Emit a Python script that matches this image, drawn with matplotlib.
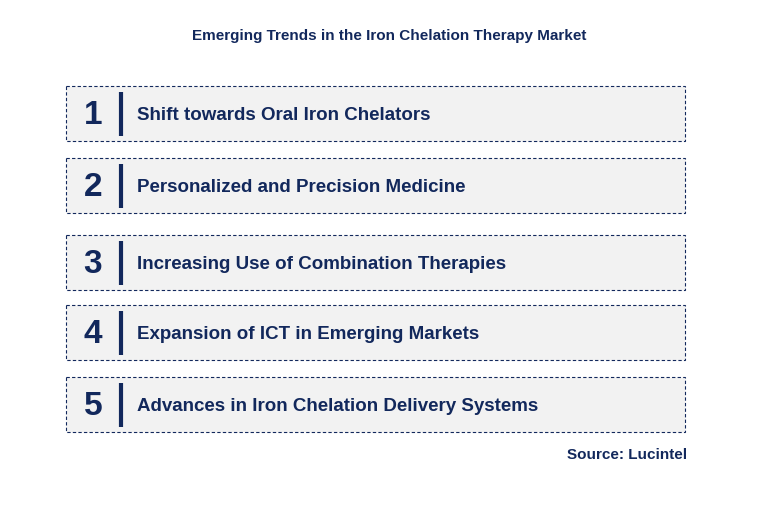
import matplotlib.pyplot as plt
from matplotlib.patches import Rectangle

# === Data ===
title = "Emerging Trends in the Iron Chelation Therapy Market"
numbers = ["1", "2", "3", "4", "5"]
trends = [
    "Shift towards Oral Iron Chelators",
    "Personalized and Precision Medicine",
    "Increasing Use of Combination Therapies",
    "Expansion of ICT in Emerging Markets",
    "Advances in Iron Chelation Delivery Systems",
]
source = "Source: Lucintel"

# === Layout (pixels) ===
box_tops = [86, 158, 235, 305, 377]
box_h = 55
box_x0, box_x1 = 66, 685
navy = "#12285c"

plt.rcParams['font.family'] = ['Liberation Sans', 'DejaVu Sans']
fig = plt.figure(figsize=(7.76, 5.07), dpi=100)
ax = fig.add_axes([0, 0, 1, 1])
ax.set_xlim(0, 776)
ax.set_ylim(507, 0)
ax.axis("off")

ax.text(389, 36, title, ha="center", va="center", fontsize=11, fontweight="bold", color=navy)

for num, trend, top in zip(numbers, trends, box_tops):
    ax.add_patch(Rectangle((box_x0, top), box_x1 - box_x0, box_h, facecolor="#f2f2f2",
                           edgecolor=navy, linestyle=(0, (3, 2)), linewidth=0.8))
    mid = top + box_h / 2
    ax.text(93, mid + 2, num, ha="center", va="center", fontsize=24, fontweight="bold", color=navy)
    ax.plot([121, 121], [mid - 22, mid + 22], color=navy, linewidth=3, solid_capstyle="butt")
    ax.text(137, mid + 2, trend, ha="left", va="center", fontsize=13.5, fontweight="bold", color=navy)

ax.text(687, 455, source, ha="right", va="center", fontsize=11, fontweight="bold", color=navy)

fig.savefig("out.png", dpi=100)
